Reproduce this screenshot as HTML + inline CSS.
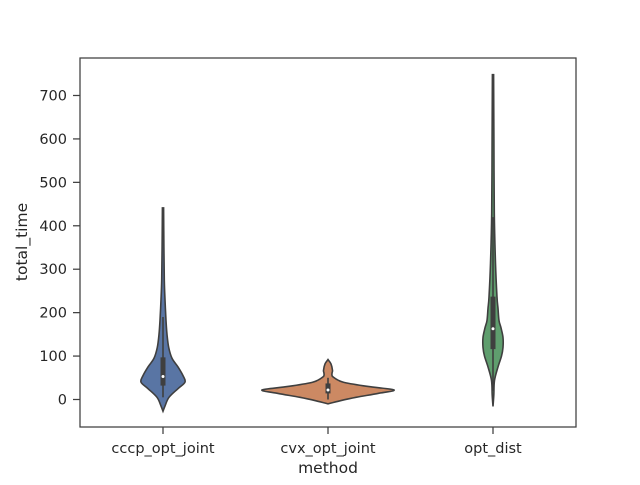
<!DOCTYPE html>
<html><head><meta charset="utf-8"><style>
body{margin:0;background:#fff}
text{font-family:"DejaVu Sans","Liberation Sans",sans-serif;fill:#262626}
</style></head><body>
<svg id="chart" width="640" height="480" xmlns="http://www.w3.org/2000/svg">
<rect width="640" height="480" fill="#fff"/>
<g id="plot"></g>
<rect x="80" y="58" width="496" height="369" fill="none" stroke="#3f3f3f" stroke-width="1.25"/>
<g id="axes"></g>
<text x="328" y="473" text-anchor="middle" font-size="15.5">method</text>
<text transform="translate(27,242) rotate(-90)" text-anchor="middle" font-size="15.5">total_time</text>
</svg>
<script>
const categories=["cccp_opt_joint","cvx_opt_joint","opt_dist"];
const colors=["#5975a4","#cc8963","#5f9e6e"];
const yTicks=[0,100,200,300,400,500,600,700];
// density profiles: values and relative half-widths
const blueVals=[-27,-15,5,25,40,55,75,95,120,150,182,230,275,350,441];
const blueDens=[0,2,6,15,22,20,15,9,5.7,4,3,2,1.3,0.9,0.6];
const orangeVals=[-10,-3,5,14,22,30,40,52,60,67,82,92];
const orangeDens=[0,12,28,50,66,40,15,5,4,4.5,3,0];
const greenVals=[-16,10,44,75,100,120,143,165,182,210,236,313,429,600,748];
const greenDens=[0,0.8,1.5,5,8.5,10,10,8,6,5,4,2.5,1.3,0.9,0.6];
const q1=[32,14,116], q3=[97,37,237], medians=[53,22,163];
const whiskLo=[5,0,20], whiskHi=[190,50,420];
const NS="http://www.w3.org/2000/svg";
const y=v=>399.5-v*0.4343;
const xc=i=>163+i*165;
function mk(t,a,p){const e=document.createElementNS(NS,t);for(const k in a)e.setAttribute(k,a[k]);(p||document.getElementById('plot')).appendChild(e);return e;}
function smooth(pts){let d=`M${pts[0][0]},${pts[0][1]}`;for(let i=0;i<pts.length-1;i++){const p0=pts[Math.max(0,i-1)],p1=pts[i],p2=pts[i+1],p3=pts[Math.min(pts.length-1,i+2)];d+=` C${p1[0]+(p2[0]-p0[0])/6},${p1[1]+(p2[1]-p0[1])/6} ${p2[0]-(p3[0]-p1[0])/6},${p2[1]-(p3[1]-p1[1])/6} ${p2[0]},${p2[1]}`;}return d;}
const profiles=[[blueVals,blueDens],[orangeVals,orangeDens],[greenVals,greenDens]];
profiles.forEach(([vals,dens],i)=>{
  const cx=xc(i);
  const right=vals.map((v,j)=>[cx+dens[j],y(v)]);
  const left=vals.map((v,j)=>[cx-dens[j],y(v)]).reverse();
  const d=smooth(right)+" L"+smooth(left).slice(1)+" Z";
  const p=mk('path',{d:d,fill:colors[i],stroke:"#3f3f3f","stroke-width":1.6});
  
  
  const w=mk('line',{x1:cx,x2:cx,y1:y(whiskLo[i]),y2:y(whiskHi[i]),stroke:"#3f3f3f","stroke-width":1.6});
  
  
  const b=mk('line',{x1:cx,x2:cx,y1:y(q1[i]),y2:y(q3[i]),stroke:"#3f3f3f","stroke-width":5,"stroke-linecap":"butt"});
  
  
  const m=mk('circle',{cx:cx,cy:y(medians[i]),r:1.5,fill:"#fff"});
  
  
});
const ax=document.getElementById('axes');
yTicks.forEach(t=>{
  const l=mk('line',{x1:73,x2:80,y1:y(t),y2:y(t),stroke:"#3f3f3f","stroke-width":1.25},ax);
  
  
  const tx=mk('text',{x:67,y:y(t)+5,"text-anchor":"end","font-size":"14.5"},ax);
  tx.textContent=t;
  
  
});
categories.forEach((c,i)=>{
  const l=mk('line',{x1:xc(i),x2:xc(i),y1:427,y2:434,stroke:"#3f3f3f","stroke-width":1.25},ax);
  
  
  const tx=mk('text',{x:xc(i),y:453,"text-anchor":"middle","font-size":"14.5"},ax);
  tx.textContent=c;
  
  
});
</script>
</body></html>
